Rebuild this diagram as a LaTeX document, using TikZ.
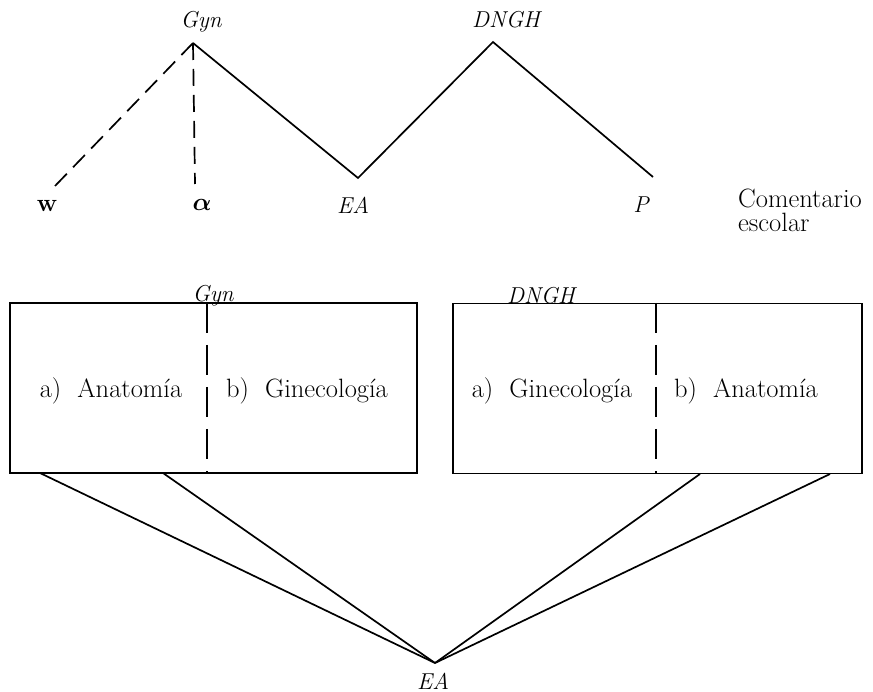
\documentclass[tikz,border=0pt]{standalone}
\usepackage{amsmath}
\usepackage{fontspec}
\setmainfont{Latin Modern Roman}
\begin{document}
\begin{tikzpicture}[x=1pt,y=-1pt,
  ln/.style={line width=1.7pt},
  dsh/.style={line width=1.7pt, dash pattern=on 17pt off 9pt},
  lbl/.style={inner sep=0pt, font=\fontsize{23}{26}\selectfont\itshape},
  txt/.style={inner sep=0pt, font=\fontsize{26.5}{24}\selectfont},
  boxn/.style={draw, line width=1.6pt, minimum height=170pt, inner sep=0pt}]
\useasboundingbox (0,0) rectangle (873,692);
% upper tree
\coordinate (gynTop) at (193,43);
\coordinate (wEnd) at (55,186);
\coordinate (alphaEnd) at (195,184);
\coordinate (eaV) at (358,178);
\coordinate (dnghTop) at (493,42);
\coordinate (pEnd) at (653,177);
\node[lbl] (gynL) at (201,22) {Gyn};
\node[lbl] (dnghL) at (506,20) {DNGH};
\node[txt, font=\fontsize{25}{26}\selectfont\bfseries] (wL) at (47,206) {w};
\node[txt, font=\fontsize{28}{28}\selectfont] (alphaL) at (202,205) {$\boldsymbol{\alpha}$};
\node[lbl] (eaL) at (353,205) {EA};
\node[lbl] (pL) at (641,205) {P};
\node[txt, align=left, anchor=west] (com) at (738,210) {Comentario\\escolar};
\draw[dsh] (wEnd) -- (gynTop);
\draw[dsh] (gynTop) -- (alphaEnd);
\draw[ln, line join=miter] (gynTop) -- (eaV) -- (dnghTop) -- (pEnd);
% boxes
\node[boxn, minimum width=407pt] (box1) at (213.5,388) {};
\node[boxn, minimum width=409pt] (box2) at (657.5,388.5) {};
\node[lbl] (gyn2) at (213,296) {Gyn};
\node[lbl] (dngh2) at (541,296) {DNGH};
\coordinate (d1t) at (207,303);
\coordinate (d1b) at (207,473);
\coordinate (d2t) at (656,303);
\coordinate (d2b) at (656,474);
\draw[dsh, dash pattern=on 30pt off 12pt] (d1t) -- (d1b);
\draw[dsh, dash pattern=on 30pt off 12pt] (d2t) -- (d2b);
\node[txt] (t1) at (111,391) {a)\ \ Anatomía};
\node[txt] (t2) at (307,391) {b)\ \ Ginecología};
\node[txt] (t3) at (552,391) {a)\ \ Ginecología};
\node[txt] (t4) at (746,391) {b)\ \ Anatomía};
% lower connectors
\coordinate (eaB) at (435,663);
\coordinate (b1a) at (40,473);
\coordinate (b1b) at (163,473);
\coordinate (b2a) at (700,474);
\coordinate (b2b) at (830,474);
\node[lbl] (eaBL) at (433,681) {EA};
\draw[ln] (b1a) -- (eaB);
\draw[ln] (b1b) -- (eaB);
\draw[ln] (b2a) -- (eaB);
\draw[ln] (b2b) -- (eaB);
\end{tikzpicture}
\end{document}
